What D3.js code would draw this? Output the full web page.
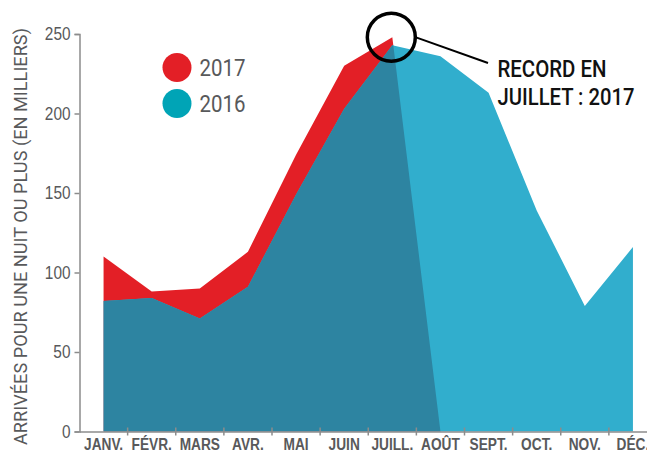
<!DOCTYPE html>
<html>
<head>
<meta charset="utf-8">
<script src="https://cdn.jsdelivr.net/npm/d3@7"></script>
<style>
  body { margin: 0; background: #fff; }
  svg { display: block; font-family: Roboto, "Noto Sans", sans-serif; }
</style>
</head>
<body>
<svg id="chart" width="647" height="452"></svg>
<script>
const months = ["JANV.", "FÉVR.", "MARS", "AVR.", "MAI", "JUIN", "JUILL.", "AOÛT", "SEPT.", "OCT.", "NOV.", "DÉC."];
const values2016 = [82, 84, 71, 91, 149, 203, 243, 236, 213, 139, 79, 116];
const values2017 = [110, 88, 90, 113, 174, 230, 248, 0];
const yTicks = [0, 50, 100, 150, 200, 250];
const legendItems = [
  { label: "2017", color: "#e31f26" },
  { label: "2016", color: "#00a4b6" },
];

const svg = d3.select("#chart");
const margin = { left: 79.5, top: 34 };

const x = d3.scaleBand().domain(months).range([margin.left, 657]).padding(0);
const y = d3.scaleLinear().domain([0, 250]).range([431.5, margin.top]);
const cx = (i) => x(months[i]) + x.bandwidth() / 2;

// condensed look: squeeze the glyphs horizontally
function squeeze(sel, factor) {
  sel.each(function () {
    const w = this.getComputedTextLength();
    d3.select(this).attr("textLength", w * factor).attr("lengthAdjust", "spacingAndGlyphs");
  });
}

const area = d3
  .area()
  .x((d, i) => cx(i))
  .y0(y(0))
  .y1((d) => y(d));

// 2017 in red, 2016 on top, overlap in dark blue
svg.append("path").datum(values2017).attr("d", area).attr("fill", "#e31f26");
svg.append("path").datum(values2016).attr("d", area).attr("fill", "#31aecd");

svg
  .append("clipPath")
  .attr("id", "clip2017")
  .append("path")
  .datum(values2017)
  .attr("d", area);
svg
  .append("path")
  .datum(values2016)
  .attr("d", area)
  .attr("fill", "#2d84a1")
  .attr("clip-path", "url(#clip2017)");

// y axis
const yAxis = svg
  .append("g")
  .attr("transform", `translate(${margin.left},0)`)
  .call(d3.axisLeft(y).tickValues(yTicks).tickSize(5).tickPadding(4));
yAxis.select(".domain").attr("stroke", "#8c8c8c").attr("stroke-width", 1.5);
yAxis.selectAll(".tick line").attr("stroke", "#8c8c8c").attr("stroke-width", 1.5);
yAxis
  .selectAll(".tick text")
  .attr("fill", "#58595b")
  .attr("font-size", 17.5)
  .attr("font-weight", 500)
  .attr("font-family", "inherit")
  .call(squeeze, 0.88);

// x axis
const xAxis = svg
  .append("g")
  .attr("transform", `translate(0,${y(0)})`)
  .call(d3.axisBottom(x).tickSize(0).tickPadding(7));
xAxis.select(".domain").attr("stroke", "#8c8c8c").attr("stroke-width", 1.5);
xAxis
  .selectAll(".tick text")
  .attr("fill", "#58595b")
  .attr("font-size", 16.5)
  .attr("font-weight", "bold")
  .attr("font-family", "inherit")
  .call(squeeze, 0.83);
xAxis
  .selectAll(".sep")
  .data(months.slice(1))
  .join("line")
  .attr("class", "sep")
  .attr("x1", (m) => x(m))
  .attr("x2", (m) => x(m))
  .attr("y1", -4)
  .attr("y2", 4)
  .attr("stroke", "#8c8c8c")
  .attr("stroke-width", 1.5);

// y title
svg
  .append("text")
  .attr("transform", `translate(26.5,236.5) rotate(-90)`)
  .attr("text-anchor", "middle")
  .attr("fill", "#58595b")
  .attr("font-size", 18.5)
  .text("ARRIVÉES POUR UNE NUIT OU PLUS (EN MILLIERS)")
  .attr("textLength", 417)
  .attr("lengthAdjust", "spacingAndGlyphs");

// legend
const legend = svg
  .selectAll(".legend")
  .data(legendItems)
  .join("g")
  .attr("class", "legend")
  .attr("transform", (d, i) => `translate(177,${67.5 + i * 36})`);
legend.append("circle").attr("r", 14.5).attr("fill", (d) => d.color);
legend
  .append("text")
  .attr("x", 22.5)
  .attr("y", 8.8)
  .attr("fill", "#58595b")
  .attr("font-size", 23.5)
  .text((d) => d.label)
  .call(squeeze, 0.87);

// record annotation
const recX = cx(6);
const recY = y(values2017[6]);
svg
  .append("circle")
  .attr("cx", recX - 1)
  .attr("cy", recY)
  .attr("r", 24)
  .attr("fill", "none")
  .attr("stroke", "#000")
  .attr("stroke-width", 3.5);
svg
  .append("line")
  .attr("x1", recX + 23)
  .attr("y1", recY)
  .attr("x2", 488)
  .attr("y2", 63)
  .attr("stroke", "#000")
  .attr("stroke-width", 2);
const note = svg
  .append("text")
  .attr("fill", "#111")
  .attr("font-size", 24.5)
  .attr("font-weight", 500);
note.append("tspan").attr("x", 497.5).attr("y", 77).text("RECORD EN")
  .attr("textLength", 109).attr("lengthAdjust", "spacingAndGlyphs");
note.append("tspan").attr("x", 497.5).attr("y", 104.5).text("JUILLET : 2017")
  .attr("textLength", 137).attr("lengthAdjust", "spacingAndGlyphs");
</script>
</body>
</html>
